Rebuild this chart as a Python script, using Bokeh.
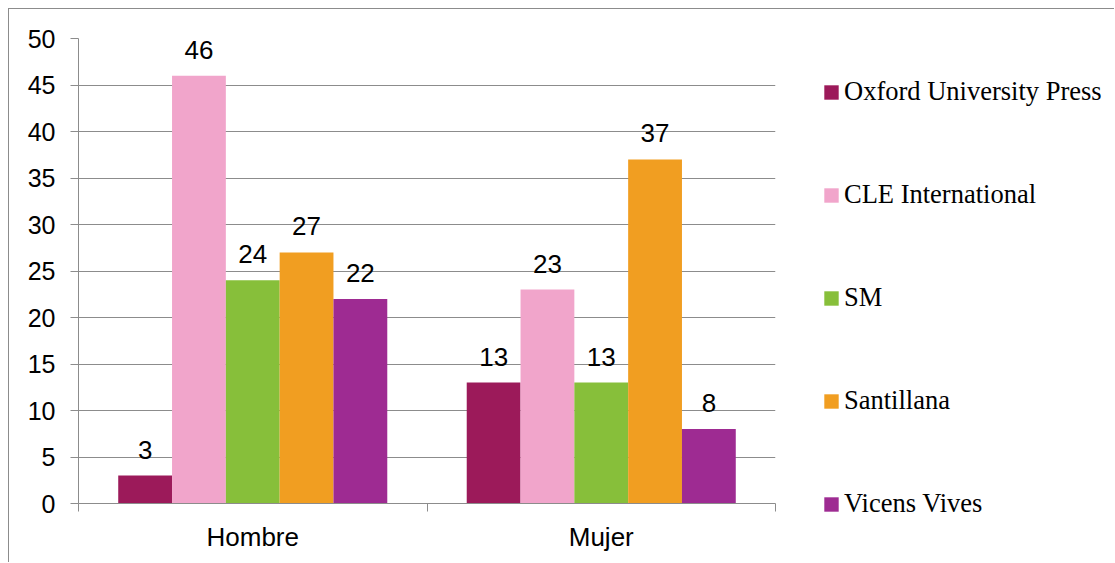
from bokeh.plotting import figure
from bokeh.layouts import row
from bokeh.models import (ColumnDataSource, FixedTicker, Legend, LegendItem, Range1d)
from bokeh.core.properties import value
from bokeh.embed import file_html
from bokeh.resources import INLINE

categories = ["Hombre", "Mujer"]
series = ["Oxford University Press", "CLE International", "SM", "Santillana", "Vicens Vives"]
oxford = [3, 13]
cle = [46, 23]
sm = [24, 13]
santillana = [27, 37]
vicens = [22, 8]
colors = ["#9C1A5A", "#F1A5CB", "#87BF3A", "#F19E21", "#9E2B92"]
y_ticks = [0, 5, 10, 15, 20, 25, 30, 35, 40, 45, 50]

values = [oxford, cle, sm, santillana, vicens]

p = figure(width=770, height=554, output_backend="svg", toolbar_location=None,
           x_range=Range1d(0, len(categories)), y_range=Range1d(0, 50))
p.styles = {"border-left": "1px solid #8c8c8c", "border-top": "1px solid #8c8c8c"}
p.min_border_left = 69
p.min_border_top = 29
p.min_border_right = 4
p.min_border_bottom = 60
p.outline_line_color = None
p.background_fill_color = "white"
p.border_fill_color = "white"
p.frame_align = False

# legend-only figure on the right
lf = figure(width=336, height=554, output_backend="svg", toolbar_location=None,
            x_range=Range1d(100, 101), y_range=Range1d(100, 101),
            x_axis_location=None, y_axis_location=None)
lf.styles = {"border-top": "1px solid #8c8c8c"}
lf.min_border = 0
lf.outline_line_color = None
lf.grid.visible = False
lf.background_fill_color = "white"
lf.border_fill_color = "white"
lf.frame_align = False

bar_w = 0.1544
legend_renderers = []
for j, (name, vals, col) in enumerate(zip(series, values, colors)):
    xs = [i + 0.5 + (j - 2) * bar_w for i in range(len(categories))]
    src = ColumnDataSource(dict(x=xs, top=vals, label=[str(v) for v in vals]))
    p.vbar(x="x", top="top", width=bar_w, bottom=0, source=src,
           fill_color=col, line_color=None)
    p.text(x="x", y="top", text="label", source=src, text_align="center",
           text_baseline="alphabetic", y_offset=-26,
           text_font=value("Liberation Sans"), text_font_size="26px", text_color="#000000")
    # out-of-view twin used only for the legend swatch
    r2 = lf.vbar(x="x", top="top", width=bar_w, bottom=0, source=src,
                 fill_color=col, line_color=None)
    legend_renderers.append(r2)

# axes
p.yaxis.ticker = FixedTicker(ticks=y_ticks)
p.yaxis.axis_line_color = "#8c8c8c"
p.yaxis.major_tick_line_color = "#8c8c8c"
p.yaxis.major_tick_out = 8
p.yaxis.major_tick_in = 0
p.yaxis.minor_tick_line_color = None
p.yaxis.major_label_text_font = "Liberation Sans"
p.yaxis.major_label_text_font_size = "25px"
p.yaxis.major_label_text_color = "#000000"
p.yaxis.major_label_standoff = 15

centers = [i + 0.5 for i in range(len(categories))]
bounds = [i for i in range(len(categories) + 1)]
p.xaxis.ticker = FixedTicker(ticks=centers, minor_ticks=bounds)
p.xaxis.major_label_overrides = {c: lab for c, lab in zip(centers, categories)}
p.xaxis.axis_line_color = "#8c8c8c"
p.xaxis.major_tick_line_color = None
p.xaxis.minor_tick_line_color = "#8c8c8c"
p.xaxis.minor_tick_out = 8
p.xaxis.minor_tick_in = 0
p.xaxis.major_label_text_font = "Liberation Sans"
p.xaxis.major_label_text_font_size = "26px"
p.xaxis.major_label_text_color = "#000000"
p.xaxis.major_label_standoff = 10

p.xgrid.grid_line_color = None
p.ygrid.ticker = FixedTicker(ticks=y_ticks)
p.ygrid.grid_line_color = "#8c8c8c"
p.ygrid.grid_line_width = 1

legend = Legend(items=[LegendItem(label=n, renderers=[r]) for n, r in zip(series, legend_renderers)],
                location=(44, 44), orientation="vertical",
                glyph_width=18, glyph_height=18, label_standoff=4,
                label_text_font="Liberation Serif", label_text_font_size="26.5px",
                label_text_color="#000000", label_height=30, spacing=72,
                padding=0, margin=0, border_line_color=None, background_fill_alpha=0)
lf.add_layout(legend, "center")

layout = row(p, lf)
layout.styles = {"margin-left": "8px", "margin-top": "8px"}

open("out.html", "w").write(file_html(layout, INLINE))
